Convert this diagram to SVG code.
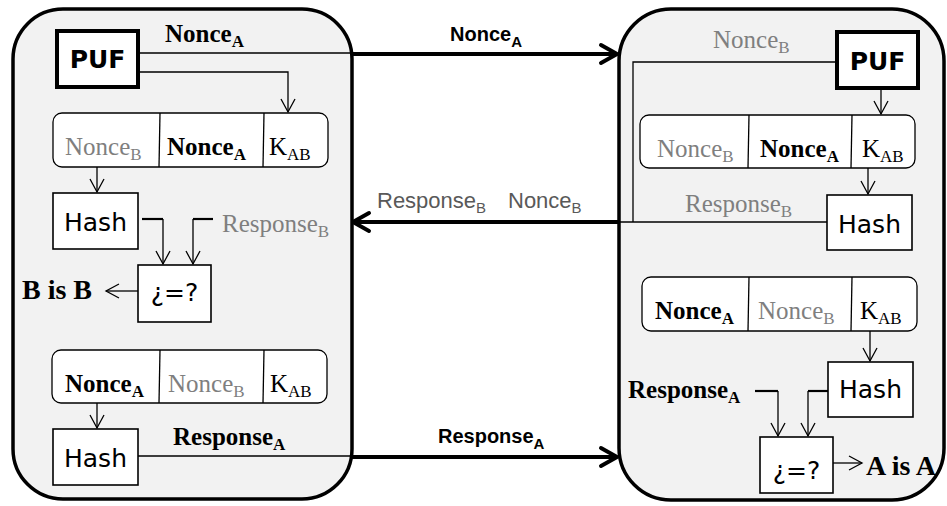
<svg xmlns="http://www.w3.org/2000/svg" width="947" height="506" viewBox="0 0 947 506">
<style>
.cont{fill:#f2f2f2;stroke:#000;stroke-width:3.5}
.puf{fill:#fff;stroke:#000;stroke-width:4}
.box{fill:#fff;stroke:#000;stroke-width:1.6}
.row{fill:#fff;stroke:#000;stroke-width:1.3}
.dv{stroke:#000;stroke-width:1.3}
.ln{fill:none;stroke:#000;stroke-width:1.3}
.stub{fill:none;stroke:#000;stroke-width:2.2}
.thick{fill:none;stroke:#000;stroke-width:4}
.serif{font-family:"Liberation Serif","Times New Roman",serif;font-size:25px;fill:#000}
.sub{font-size:17px}
.big{font-size:28px}
.sans{font-family:"DejaVu Sans",Verdana,sans-serif;font-size:25px;fill:#000}
.lab{font-family:"Liberation Sans",Arial,sans-serif;font-size:20px;font-weight:bold;fill:#000}
.glab{font-family:"Liberation Sans",Arial,sans-serif;font-size:22px;fill:#595959}
.lsub{font-size:15px}
.b{font-weight:bold}
.g{fill:#7f7f7f}
.mid{text-anchor:middle}
</style>
<defs>
<marker id="ah" viewBox="-15 -9 17 18" refX="0" refY="0" markerWidth="17" markerHeight="18" markerUnits="userSpaceOnUse" orient="auto">
<path d="M-13,-7 L0,0 L-13,7" fill="none" stroke="#000" stroke-width="1.3"/>
</marker>
<marker id="ahT" viewBox="-20 -12 23 24" refX="0" refY="0" markerWidth="23" markerHeight="24" markerUnits="userSpaceOnUse" orient="auto">
<path d="M-16,-9 L0,0 L-16,9" fill="none" stroke="#000" stroke-width="4" stroke-linecap="round" stroke-linejoin="round"/>
</marker>
</defs>

<g id="deviceA">
<rect class="cont" x="13" y="9" width="339" height="490" rx="50" ry="50"/>
</g>
<g id="deviceB">
<rect class="cont" x="619" y="9" width="325" height="491" rx="52" ry="52"/>
</g>

<g id="connectors">
<path class="ln" d="M138,53 H352"/>
<path class="thick" d="M352,54 H617" marker-end="url(#ahT)"/>
<path class="ln" d="M138,72 H288 V112" marker-end="url(#ah)"/>
<path class="ln" d="M97,167 V192" marker-end="url(#ah)"/>
<path class="stub" d="M142,219 H163"/>
<path class="ln" d="M163,219 V264" marker-end="url(#ah)"/>
<path class="stub" d="M213,219 H193"/>
<path class="ln" d="M193,219 V264" marker-end="url(#ah)"/>
<path class="ln" d="M138,291 H106" marker-end="url(#ah)"/>
<path class="ln" d="M97,403 V428" marker-end="url(#ah)"/>
<path class="ln" d="M138,456 H352"/>
<path class="thick" d="M352,457 H617" marker-end="url(#ahT)"/>
<path class="ln" d="M881,88 V114" marker-end="url(#ah)"/>
<path class="ln" d="M837,62 H633 V222"/>
<path class="ln" d="M827,222 H619"/>
<path class="thick" d="M619,222 H353" marker-end="url(#ahT)"/>
<path class="ln" d="M868,168 V194" marker-end="url(#ah)"/>
<path class="ln" d="M870,331 V361" marker-end="url(#ah)"/>
<path class="stub" d="M828,391 H808"/>
<path class="ln" d="M808,391 V436" marker-end="url(#ah)"/>
<path class="stub" d="M755,391 H778"/>
<path class="ln" d="M778,391 V436" marker-end="url(#ah)"/>
<path class="ln" d="M833,463 H862" marker-end="url(#ah)"/>
</g>

<g id="msg-labels">
<text class="lab" x="450" y="41">Nonce<tspan class="lsub" dy="6">A</tspan></text>
<text class="glab" x="377" y="208">Response<tspan class="lsub" dy="5">B</tspan></text>
<text class="glab" x="508" y="208">Nonce<tspan class="lsub" dy="5">B</tspan></text>
<text class="lab" x="438" y="443">Response<tspan class="lsub" dy="6">A</tspan></text>
</g>

<g id="A-puf">
<rect class="puf" x="57" y="31" width="81" height="56"/>
<text class="sans b mid" x="97.5" y="68">PUF</text>
</g>
<text class="serif b" x="165" y="42">Nonce<tspan class="sub" dy="5">A</tspan></text>

<g id="A-row1">
<rect class="row" x="53" y="113" width="275" height="54" rx="9" ry="9"/>
<line class="dv" x1="160" y1="113" x2="159" y2="167"/>
<line class="dv" x1="264" y1="113" x2="263" y2="167"/>
<text class="serif g" x="65" y="155">Nonce<tspan class="sub" dy="5">B</tspan></text>
<text class="serif b" x="167" y="155">Nonce<tspan class="sub" dy="5">A</tspan></text>
<text class="serif" x="269" y="155">K<tspan class="sub" dy="5">AB</tspan></text>
</g>

<g id="A-hash1">
<rect class="box" x="53" y="193" width="85" height="56"/>
<text class="sans mid" x="95.5" y="231">Hash</text>
</g>
<text class="serif g" x="222" y="232">Response<tspan class="sub" dy="5">B</tspan></text>

<g id="A-cmp">
<rect class="box" x="138" y="265" width="73" height="57"/>
<text class="sans mid" x="174.5" y="301">¿=?</text>
</g>
<text class="serif b big" x="22" y="299">B is B</text>

<g id="A-row2">
<rect class="row" x="52" y="350" width="275" height="53" rx="9" ry="9"/>
<line class="dv" x1="160" y1="350" x2="159" y2="403"/>
<line class="dv" x1="264" y1="350" x2="263" y2="403"/>
<text class="serif b" x="65" y="392">Nonce<tspan class="sub" dy="5">A</tspan></text>
<text class="serif g" x="168" y="392">Nonce<tspan class="sub" dy="5">B</tspan></text>
<text class="serif" x="270" y="392">K<tspan class="sub" dy="5">AB</tspan></text>
</g>

<g id="A-hash2">
<rect class="box" x="53" y="429" width="85" height="56"/>
<text class="sans mid" x="95.5" y="467">Hash</text>
</g>
<text class="serif b" x="173" y="445">Response<tspan class="sub" dy="5">A</tspan></text>

<g id="B-puf">
<rect class="puf" x="837" y="32" width="81" height="56"/>
<text class="sans b mid" x="877.5" y="70">PUF</text>
</g>
<text class="serif g" x="713" y="48">Nonce<tspan class="sub" dy="5">B</tspan></text>

<g id="B-row1">
<rect class="row" x="640" y="115" width="275" height="53" rx="9" ry="9"/>
<line class="dv" x1="749" y1="115" x2="748" y2="168"/>
<line class="dv" x1="852" y1="115" x2="851" y2="168"/>
<text class="serif g" x="657" y="157">Nonce<tspan class="sub" dy="5">B</tspan></text>
<text class="serif b" x="760" y="157">Nonce<tspan class="sub" dy="5">A</tspan></text>
<text class="serif" x="862" y="157">K<tspan class="sub" dy="5">AB</tspan></text>
</g>

<g id="B-hash1">
<rect class="box" x="827" y="195" width="85" height="55"/>
<text class="sans mid" x="869.5" y="233">Hash</text>
</g>
<text class="serif g" x="685" y="212">Response<tspan class="sub" dy="5">B</tspan></text>

<g id="B-row2">
<rect class="row" x="642" y="277" width="275" height="54" rx="9" ry="9"/>
<line class="dv" x1="749" y1="277" x2="748" y2="331"/>
<line class="dv" x1="852" y1="277" x2="851" y2="331"/>
<text class="serif b" x="655" y="319">Nonce<tspan class="sub" dy="5">A</tspan></text>
<text class="serif g" x="758" y="319">Nonce<tspan class="sub" dy="5">B</tspan></text>
<text class="serif" x="860" y="319">K<tspan class="sub" dy="5">AB</tspan></text>
</g>

<g id="B-hash2">
<rect class="box" x="828" y="362" width="85" height="55"/>
<text class="sans mid" x="870.5" y="398">Hash</text>
</g>
<text class="serif b" x="628" y="398">Response<tspan class="sub" dy="5">A</tspan></text>

<g id="B-cmp">
<rect class="box" x="760" y="437" width="73" height="56"/>
<text class="sans mid" x="796.5" y="479">¿=?</text>
</g>
<text class="serif b big" x="866" y="475">A is A</text>
</svg>
